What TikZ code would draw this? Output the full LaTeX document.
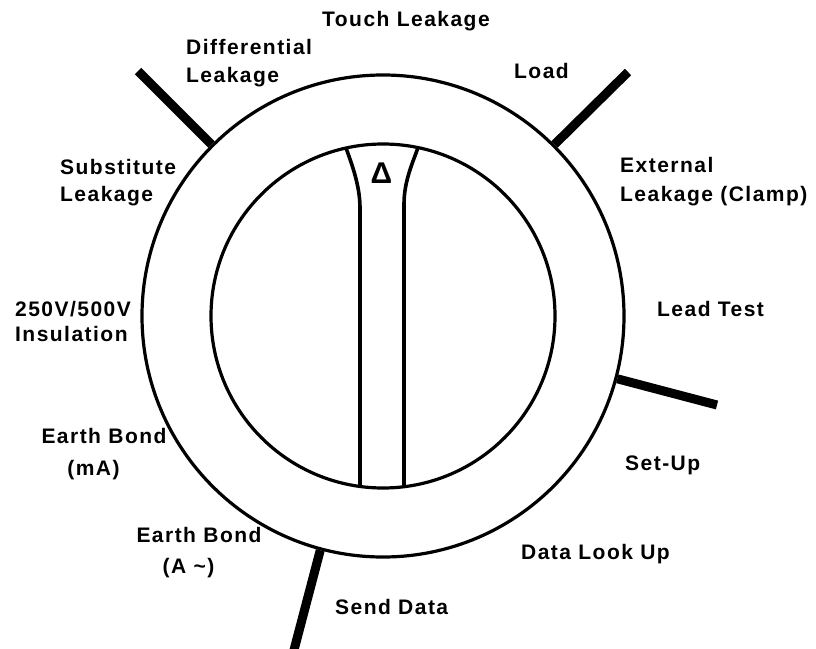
\documentclass[tikz,border=0pt]{standalone}
\usepackage{fontspec}
\newfontfamily\lblface{Liberation Sans}[LetterSpace=7]
\newfontfamily\symface{Liberation Sans}
\newcommand\lblsize[1]{\fontsize{21}{#1}\selectfont}
\begin{document}
\begin{tikzpicture}[x=1pt,y=-1pt,
  ring/.style={circle, draw, line width=3.2pt, inner sep=0pt},
  stripline/.style={line width=3.6pt},
  pointer/.style={line width=9pt},
  lbl/.style={inner sep=0pt, anchor=north west, align=left, font=\lblface\bfseries\lblsize{28}},
]
\useasboundingbox (0,0) rectangle (816,648);

% dial
\coordinate (c) at (383,316);
\node[ring, minimum size=482pt] (outer) at (c) {};
\node[ring, minimum size=344pt] (inner) at (c) {};

% knob strip
\draw[stripline] (360,486.5) -- (360,208) .. controls (360,185) and (351,162) .. (346,148);
\draw[stripline] (404,486.7) -- (404,204) .. controls (404,181) and (413,162) .. (418,147.6);
\node[inner sep=0pt, font=\symface\bfseries\fontsize{30}{30}\selectfont] (delta) at (381.5,173) {Δ};

% pointer free ends
\coordinate (e1) at (138,71);
\coordinate (e2) at (628,72);
\coordinate (e3) at (717,405);
\coordinate (e4) at (294,650);
\draw[pointer] (outer.135) -- (e1);
\draw[pointer] (outer.45) -- (e2);
\draw[pointer] (outer.-15) -- (e3);
\draw[pointer] (outer.-105) -- (e4);

% labels
\node[lbl] (touch) at (322,11) {Touch Leakage};
\node[lbl] (diff) at (186,39) {Differential\\Leakage};
\node[lbl] (load) at (514,63) {Load};
\node[lbl, font=\lblface\bfseries\lblsize{29}] (ext) at (620,157) {External\\Leakage (Clamp)};
\node[lbl] (lead) at (657,301) {Lead Test};
\node[lbl] (setup) at (625,456) {Set-Up};
\node[lbl] (look) at (521,544) {Data Look Up};
\node[lbl] (send) at (335,599) {Send Data};
\node[lbl, anchor=north, align=center, font=\lblface\bfseries\lblsize{31}] (ebA) at (199,527) {Earth Bond\\(A \textasciitilde)\hspace*{21pt}};
\node[lbl, anchor=north, align=center, font=\lblface\bfseries\lblsize{32}] (ebmA) at (104,428) {Earth Bond\\(mA)\hspace*{21pt}};
\node[lbl, font=\lblface\bfseries\lblsize{25}] (ins) at (15,301) {250V/500V\\Insulation};
\node[lbl, font=\lblface\bfseries\lblsize{27}] (subst) at (60,159) {Substitute\\Leakage};
\end{tikzpicture}
\end{document}
